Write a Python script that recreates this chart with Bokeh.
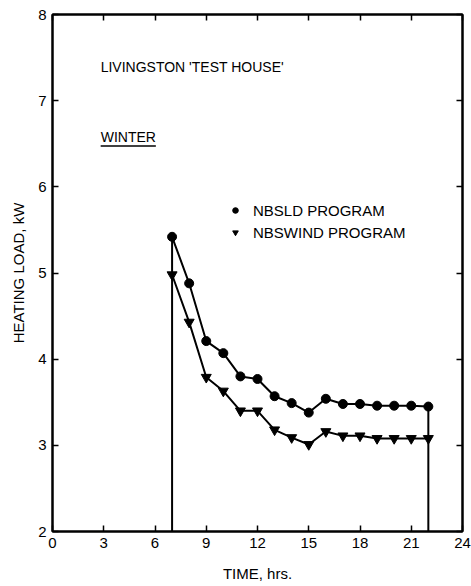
from bokeh.plotting import figure
from bokeh.models import Range1d, LinearAxis, FixedTicker, Legend, LegendItem, ColumnDataSource
from bokeh.core.properties import value
from bokeh.embed import file_html
from bokeh.resources import INLINE

# Data
hours = [7, 8, 9, 10, 11, 12, 13, 14, 15, 16, 17, 18, 19, 20, 21, 22]
nbsld = [5.42, 4.88, 4.21, 4.07, 3.80, 3.77, 3.57, 3.49, 3.38, 3.54, 3.48, 3.48, 3.46, 3.46, 3.46, 3.45]
nbswind = [4.98, 4.43, 3.79, 3.63, 3.40, 3.40, 3.18, 3.09, 3.01, 3.16, 3.11, 3.11, 3.08, 3.08, 3.08, 3.08]
x_ticks = [0, 3, 6, 9, 12, 15, 18, 21, 24]
y_ticks = [2, 3, 4, 5, 6, 7, 8]
title_text = "LIVINGSTON 'TEST HOUSE'"
season_text = "WINTER"
series_names = ["NBSLD PROGRAM", "NBSWIND PROGRAM"]

FONT = "Liberation Sans"

p = figure(width=471, height=586, output_backend="svg", toolbar_location=None,
           x_range=Range1d(0, 24), y_range=Range1d(2, 8),
           min_border_left=52, min_border_right=9, min_border_top=14, min_border_bottom=55)
p.background_fill_color = "white"
p.border_fill_color = "white"
p.grid.visible = False
p.outline_line_color = "black"
p.outline_line_width = 2

for ax in (p.xaxis[0], p.yaxis[0]):
    ax.axis_line_width = 2
    ax.axis_line_color = "black"
    ax.major_tick_in = 6
    ax.major_tick_out = 0
    ax.major_tick_line_width = 1.5
    ax.minor_tick_line_color = None
    ax.major_label_text_font = FONT
    ax.major_label_text_font_size = "15px"
    ax.major_label_text_color = "black"
    ax.axis_label_text_font = FONT
    ax.axis_label_text_font_size = "15px"
    ax.axis_label_text_font_style = "normal"
    ax.axis_label_text_color = "black"

p.xaxis.ticker = FixedTicker(ticks=x_ticks)
p.yaxis.ticker = FixedTicker(ticks=y_ticks)
p.xaxis.axis_label = "TIME, hrs."
p.yaxis.axis_label = "HEATING LOAD, kW"
p.xaxis.major_label_standoff = 6
p.yaxis.major_label_standoff = 6
p.xaxis.axis_label_standoff = 14
p.yaxis.axis_label_standoff = 8

top = LinearAxis(ticker=FixedTicker(ticks=x_ticks), major_label_text_color=None,
                 major_label_text_font_size="1px",
                 major_tick_in=6, major_tick_out=0, minor_tick_line_color=None,
                 axis_line_width=2, major_tick_line_width=1.5, major_label_standoff=0)
right = LinearAxis(ticker=FixedTicker(ticks=y_ticks), major_label_text_color=None,
                   major_label_text_font_size="1px",
                   major_tick_in=6, major_tick_out=0, minor_tick_line_color=None,
                   axis_line_width=2, major_tick_line_width=1.5, major_label_standoff=0)
p.add_layout(top, "above")
p.add_layout(right, "right")

# Vertical drops at start and end of heating period
p.segment(x0=[hours[0], hours[-1]], y0=[nbsld[0], nbsld[-1]],
          x1=[hours[0], hours[-1]], y1=[2, 2], line_color="black", line_width=2)

src = ColumnDataSource(dict(h=hours, a=nbsld, b=nbswind))
p.line("h", "a", source=src, line_color="black", line_width=2)
p.line("h", "b", source=src, line_color="black", line_width=2)
r1 = p.scatter("h", "a", source=src, marker="circle", size=9, fill_color="black", line_color="black")
r2 = p.scatter("h", "b", source=src, marker="inverted_triangle", size=10, fill_color="black", line_color="black")

legend = Legend(items=[LegendItem(label=series_names[0], renderers=[r1]),
                       LegendItem(label=series_names[1], renderers=[r2])],
                location=(176, 289), border_line_color=None, background_fill_alpha=0,
                padding=0, margin=0, spacing=2, glyph_width=14, glyph_height=20,
                label_height=20, label_standoff=11,
                label_text_font=FONT, label_text_font_size="15px", label_text_color="black")
p.add_layout(legend, "center")

p.text(x=[2.82], y=[7.385], text=[title_text], text_font=value(FONT),
       text_font_size="14px", text_align="left", text_baseline="middle", text_color="black")
p.text(x=[2.82], y=[6.573], text=[season_text], text_font=value(FONT),
       text_font_size="14px", text_align="left", text_baseline="middle", text_color="black")
p.segment(x0=[2.82], y0=[6.475], x1=[6.05], y1=[6.475], line_color="black", line_width=1.5)

open("out.html", "w").write(file_html(p, INLINE))
